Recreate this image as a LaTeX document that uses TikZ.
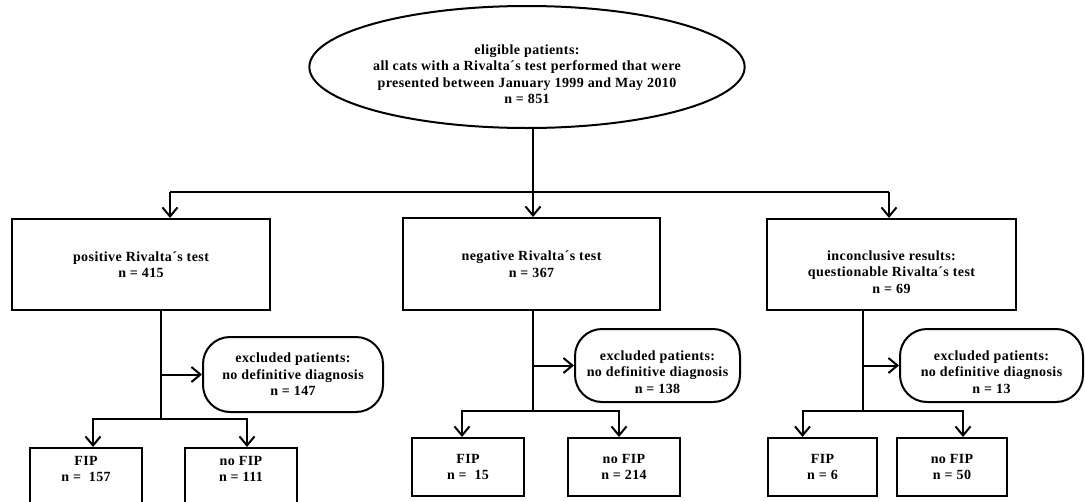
\documentclass[tikz,border=0pt]{standalone}
\usepackage{fontspec}
\setmainfont{Liberation Serif}[LetterSpace=3]
\usepackage{tikz}
\usetikzlibrary{shapes.geometric, arrows.meta}

\tikzset{
  chart/.style={draw, line width=2pt, align=center, inner sep=0pt,
    font=\bfseries\fontsize{14}{16.5}\selectfont},
  bigbox/.style={chart, rectangle},
  leafbox/.style={chart, rectangle, minimum width=112pt, minimum height=58pt},
  outbox/.style={chart, rectangle, rounded corners=27pt},
  arr/.style={line width=2pt, -{Straight Barb[length=9pt,width=15pt]}},
  ln/.style={line width=2pt}
}

\begin{document}
\begin{tikzpicture}[x=1pt, y=-1pt]
        \useasboundingbox (0,0) rectangle (1085,501);
        \clip (0,0) rectangle (1085,501);

        % eligible patients (top ellipse)
        \node[chart, ellipse, minimum width=427pt, minimum height=122pt, text height=74pt] (root) at (527,67)
          {eligible patients:\\ all cats with a Rivalta´s test performed that were\\
           presented between January 1999 and May 2010\\ n = 851};

        % the three groups
        \node[bigbox, minimum width=258pt, minimum height=91pt] (pos) at (141,264.5)
          {positive Rivalta´s test\\ n = 415};
        \node[bigbox, minimum width=257pt, minimum height=92pt] (neg) at (531.5,264)
          {negative Rivalta´s test\\ n = 367};
        \node[bigbox, minimum width=249pt, minimum height=91pt, text height=58pt] (inc) at (891.5,264.5)
          {inconclusive results:\\ questionable Rivalta´s test\\ n = 69};

        % excluded patients
        \node[outbox, minimum width=180pt, minimum height=75pt] (ex1) at (293,374.5)
          {excluded patients:\\ no definitive diagnosis\\ n = 147};
        \node[outbox, minimum width=165pt, minimum height=73pt, text height=56pt] (ex2) at (657.5,365.5)
          {excluded patients:\\ no definitive diagnosis\\ n = 138};
        \node[outbox, minimum width=183pt, minimum height=73pt, text height=56pt] (ex3) at (991.5,365.5)
          {excluded patients:\\ no definitive diagnosis\\ n = 13};

        % FIP / no FIP
        \node[leafbox, anchor=north, text depth=16pt] (fip1) at (86,447) {FIP\\ n = \ 157};
        \node[leafbox, anchor=north, text depth=16pt] (nofip1) at (241,447) {no FIP\\ n = 111};
        \node[leafbox, anchor=north] (fip2) at (468,437) {FIP\\ n = \ 15};
        \node[leafbox, anchor=north] (nofip2) at (624,437) {no FIP\\ n = 214};
        \node[leafbox, anchor=north, minimum width=109pt] (fip3) at (822.5,437) {FIP\\ n = 6};
        \node[leafbox, anchor=north, minimum width=110pt] (nofip3) at (952,437) {no FIP\\ n = 50};

        % split below the ellipse
        \coordinate (hub) at (533,192);
        \coordinate (hubL) at (170,192);
        \coordinate (hubR) at (889,192);
        \draw[ln] (root.south -| hub) -- (hub);
        \draw[ln] (hubL) -- (hubR);
        \draw[arr] (hubL) -- (hubL |- pos.north);
        \draw[arr] (hub) -- (hub |- neg.north);
        \draw[arr] (hubR) -- (hubR |- inc.north);

        % positive branch
        \coordinate (pdown) at (161,419);
        \draw[ln] (pdown |- pos.south) -- (pdown);
        \draw[arr] (pdown |- ex1.west) -- (ex1.west);
        \draw[arr] (pdown) -| ([xshift=7pt]fip1.north);
        \draw[arr] (pdown) -| ([xshift=6pt]nofip1.north);

        % negative branch
        \coordinate (ndown) at (533,411);
        \draw[ln] (ndown |- neg.south) -- (ndown);
        \draw[arr] (ndown |- ex2.west) -- (ex2.west);
        \draw[arr] (ndown) -| ([xshift=-6pt]fip2.north);
        \draw[arr] (ndown) -| ([xshift=-5pt]nofip2.north);

        % inconclusive branch
        \coordinate (idown) at (863,411);
        \draw[ln] (idown |- inc.south) -- (idown);
        \draw[arr] (idown |- ex3.west) -- (ex3.west);
        \draw[arr] (idown) -| ([xshift=-20pt]fip3.north);
        \draw[arr] (idown) -| ([xshift=11pt]nofip3.north);
        \end{tikzpicture}
\end{document}
